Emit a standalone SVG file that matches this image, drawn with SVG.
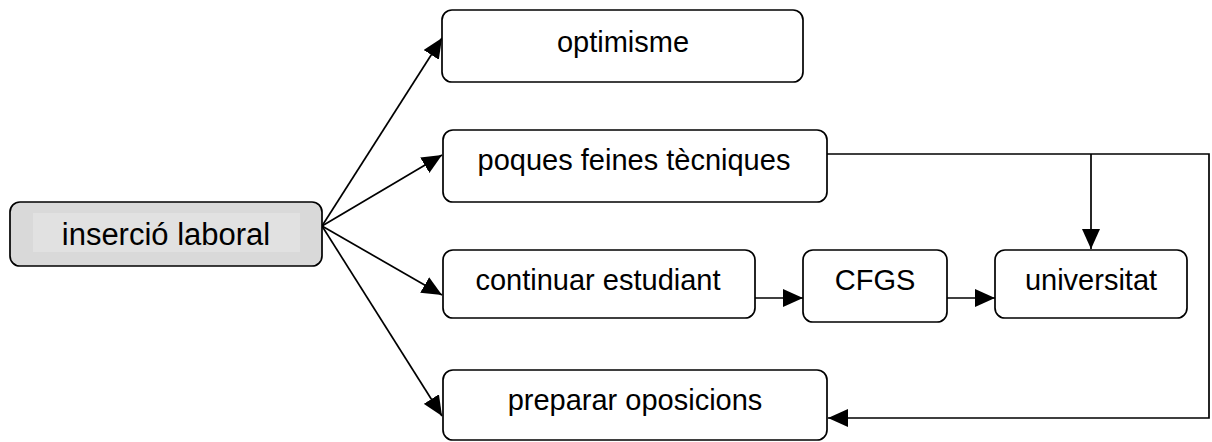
<svg xmlns="http://www.w3.org/2000/svg" width="1212" height="442" viewBox="0 0 1212 442">
<style>
.box{fill:#ffffff;stroke:#000000;stroke-width:1.7}
.main{fill:#d9d9d9;stroke:#000000;stroke-width:1.7}
.lbl{font-family:"Liberation Sans",Arial,sans-serif;font-size:29px;fill:#000000;text-anchor:middle}
.conn{fill:none;stroke:#000000;stroke-width:1.7}
</style>
<defs>
<marker id="arr" markerUnits="userSpaceOnUse" markerWidth="20" markerHeight="18" refX="20" refY="9" orient="auto">
<path d="M0,0 L20,9 L0,18 z" fill="#000000"/>
</marker>
</defs>
<g id="connectors">
<line class="conn" x1="322" y1="226" x2="442" y2="38" marker-end="url(#arr)"/>
<line class="conn" x1="322" y1="226" x2="442" y2="155" marker-end="url(#arr)"/>
<line class="conn" x1="322" y1="226" x2="442" y2="295" marker-end="url(#arr)"/>
<line class="conn" x1="322" y1="226" x2="442" y2="416" marker-end="url(#arr)"/>
<line class="conn" x1="755" y1="298" x2="803" y2="298" marker-end="url(#arr)"/>
<line class="conn" x1="947" y1="298" x2="995" y2="298" marker-end="url(#arr)"/>
<polyline class="conn" points="827,154 1209,154 1209,418 828,418" marker-end="url(#arr)"/>
<line class="conn" x1="1091" y1="154" x2="1091" y2="249" marker-end="url(#arr)"/>
</g>
<g id="node-insercio">
<rect class="main" x="10" y="202" width="312" height="64" rx="10"/>
<rect x="33" y="213" width="267" height="39" fill="#e1e1e1"/>
<text class="lbl" x="166" y="245" style="font-size:31px">inserció laboral</text>
</g>
<g id="node-optimisme">
<rect class="box" x="442" y="10" width="361" height="72" rx="10"/>
<text class="lbl" x="623" y="52">optimisme</text>
</g>
<g id="node-poques">
<rect class="box" x="443" y="130" width="384" height="72" rx="10"/>
<text class="lbl" x="634" y="170">poques feines tècniques</text>
</g>
<g id="node-continuar">
<rect class="box" x="443" y="250" width="312" height="68" rx="10"/>
<text class="lbl" x="598" y="290">continuar estudiant</text>
</g>
<g id="node-cfgs">
<rect class="box" x="803" y="250" width="144" height="72" rx="10"/>
<text class="lbl" x="875" y="290">CFGS</text>
</g>
<g id="node-universitat">
<rect class="box" x="995" y="250" width="192" height="68" rx="10"/>
<text class="lbl" x="1091" y="290">universitat</text>
</g>
<g id="node-preparar">
<rect class="box" x="443" y="370" width="384" height="70" rx="10"/>
<text class="lbl" x="635" y="410">preparar oposicions</text>
</g>
</svg>
